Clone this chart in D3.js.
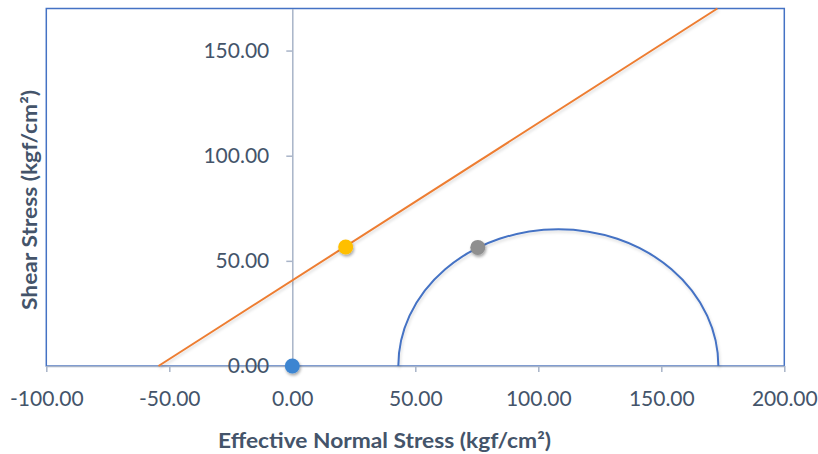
<!DOCTYPE html>
<html>
<head>
<meta charset="utf-8">
<title>Mohr circle</title>
<script src="https://d3js.org/d3.v7.min.js"></script>
<style>
  body { margin: 0; background: #fff; }
  svg { display: block; font-family: Lato, "Open Sans", sans-serif; }
  .tick text { fill: #44546a; font-size: 21px; }
  .title { fill: #44546a; font-size: 21px; font-weight: bold; }
</style>
</head>
<body>
<svg id="chart" width="818" height="454"></svg>
<script>
// values
const xTicks = [-100, -50, 0, 50, 100, 150, 200];
const yTicks = [0, 50, 100, 150];
const xDomain = [-100, 200];
const yDomain = [0, 170];

// failure envelope (two ends)
const envSigma = [-54.4, 172.8];
const envTau = [0, 170];

// Mohr circle: sigma3, sigma1
const circleSigma = [43.1, 173.2];

// points
const ptSigma = [0, 21.7, 75.4];
const ptTau = [0, 56.6, 56.4];
const ptColor = ["#3d85d1", "#ffbf00", "#8f8f8f"];

const svg = d3.select("#chart");
const plotL = 46.3, plotR = 784.3, plotT = 8.5, plotB = 366;

const x = d3.scaleLinear(xDomain, [plotL, plotR]);
const y = d3.scaleLinear(yDomain, [plotB, plotT]);
const fmt = d => d.toFixed(2);

const defs = svg.append("defs");
defs.append("filter").attr("id", "shadow")
    .attr("x", "-50%").attr("y", "-50%").attr("width", "200%").attr("height", "200%")
  .append("feDropShadow")
    .attr("dx", 1).attr("dy", 2).attr("stdDeviation", 1.6)
    .attr("flood-color", "#000").attr("flood-opacity", 0.35);
defs.append("filter").attr("id", "lshadow")
    .attr("x", "-10%").attr("y", "-10%").attr("width", "120%").attr("height", "120%")
  .append("feDropShadow")
    .attr("dx", 1).attr("dy", 2).attr("stdDeviation", 1.5)
    .attr("flood-color", "#000").attr("flood-opacity", 0.15);

// plot area border
svg.append("rect")
    .attr("x", plotL).attr("y", plotT)
    .attr("width", plotR - plotL).attr("height", plotB - plotT)
    .attr("fill", "none").attr("stroke", "#4472c4").attr("stroke-width", 1.5);

// x axis at tau = 0
const xAxis = svg.append("g")
    .attr("transform", `translate(0,${y(0)})`)
    .call(d3.axisBottom(x).tickValues(xTicks).tickSize(6).tickPadding(19)
      .tickFormat(fmt).tickSizeOuter(0));

// y axis at sigma = 0
const yAxis = svg.append("g")
    .attr("transform", `translate(${x(0)},0)`)
    .call(d3.axisLeft(y).tickValues(yTicks).tickSize(6).tickPadding(17)
      .tickFormat(fmt).tickSizeOuter(0));

[xAxis, yAxis].forEach(g => {
  g.attr("font-family", null).attr("font-size", null);
  g.select(".domain").attr("stroke", "#a8b4c8").attr("stroke-width", 1.5);
  g.selectAll(".tick line").attr("stroke", "#a8b4c8").attr("stroke-width", 1.5);
});

// envelope line
svg.append("path")
    .datum(d3.zip(envSigma, envTau))
    .attr("d", d3.line().x(d => x(d[0])).y(d => y(d[1])))
    .attr("fill", "none").attr("stroke", "#ed7d31").attr("stroke-width", 2)
    .attr("filter", "url(#lshadow)");

// Mohr semicircle
const rx = x(circleSigma[1]) - x((circleSigma[0] + circleSigma[1]) / 2);
const ry = y(0) - y((circleSigma[1] - circleSigma[0]) / 2);
svg.append("path")
    .attr("d", `M${x(circleSigma[0])},${y(0)} A${rx},${ry} 0 0 1 ${x(circleSigma[1])},${y(0)}`)
    .attr("fill", "none").attr("stroke", "#4472c4").attr("stroke-width", 2)
    .attr("filter", "url(#lshadow)");

// points
svg.append("g").selectAll("circle")
    .data(ptSigma.map((s, i) => ({s: s, t: ptTau[i], c: ptColor[i]})))
    .join("circle")
    .attr("cx", d => x(d.s)).attr("cy", d => y(d.t)).attr("r", 7.5)
    .attr("fill", d => d.c)
    .attr("filter", "url(#shadow)");

// axis titles
svg.append("text").attr("class", "title")
    .attr("x", (218 + 551) / 2).attr("y", 448)
    .attr("text-anchor", "middle")
    .attr("textLength", 333).attr("lengthAdjust", "spacingAndGlyphs")
    .text("Effective Normal Stress (kgf/cm²)");

svg.append("text").attr("class", "title")
    .attr("transform", "translate(37,200) rotate(-90)")
    .attr("text-anchor", "middle")
    .attr("textLength", 220).attr("lengthAdjust", "spacingAndGlyphs")
    .text("Shear Stress (kgf/cm²)");
</script>
</body>
</html>
